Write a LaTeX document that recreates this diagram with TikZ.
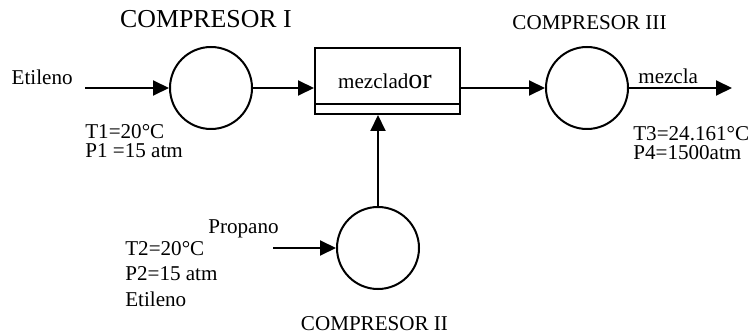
\documentclass[tikz,border=0pt]{standalone}
\usepackage{fontspec}
\setmainfont{Liberation Serif}
\usetikzlibrary{arrows.meta, calc, positioning}
\tikzstyle{stdText} = [inner sep=0pt, font=\fontsize{12}{14}\selectfont]
\tikzstyle{title} = [stdText, anchor=base]
\tikzstyle{info} = [stdText, align=left, anchor=base west]
\tikzstyle{comp} = [draw, circle, line width=.04cm, minimum size=1.64cm, inner sep=0pt]
\tikzstyle{mixer} = [stdText, draw, rectangle, line width=.04cm, minimum width=2.9cm, minimum height=1.32cm]
\tikzstyle{ar} = [-{Triangle[length=.32cm, width=.3cm]}, line width=.04cm]

\begin{document}
\begin{tikzpicture}
    \useasboundingbox (0,0) rectangle (15,-6.7);

    % compressors and the mixer
    \node (c1) [comp] at (4.22,-1.76) {};
    \node (c3) [comp] at (11.74,-1.76) {};
    \node (c2) [comp] at (7.56,-4.96) {};
    \node (mix) [mixer] at (7.75,-1.62) {\hspace*{-.1cm}mezclad{\fontsize{16}{18}\selectfont or}};
    \draw [line width=.04cm] ($(mix.south west)+(0,.22)$) -- ($(mix.south east)+(0,.22)$);

    \node (t1) [title, font=\fontsize{14.7}{17}\selectfont] at ($(c1)+(-.1,1.2)$) {COMPRESOR I};
    \node (t3) [title] at ($(c3)+(.05,1.16)$) {COMPRESOR III};
    \node (t2) [title] at ($(c2)+(-.07,-1.64)$) {COMPRESOR II};

    % free ends of the streams
    \coordinate (in1) at (1.7,-1.76);
    \coordinate (in2) at (5.46,-4.96);
    \coordinate (out3) at (14.64,-1.76);

    \draw [ar] (in1) -- (c1);
    \draw [ar] (c1) -- (c1 -| mix.west);
    \draw [ar] (mix.east |- c3) -- (c3);
    \draw [ar] (c3) -- (out3);
    \draw [ar] (in2) -- (c2);
    \draw [ar] (c2) -- (c2 |- mix.south);

    % stream data (base is the last line)
    \node (etil1) [stdText, anchor=base east] at ($(in1)+(-.24,.06)$) {Etileno};
    \node (cond1) [info, font=\fontsize{12}{11.2}\selectfont] at ($(in1)+(0,-1.4)$) {T1=20°C \\ P1 =15 atm};
    \node (prop) [stdText, anchor=base west] at ($(in2)+(-1.3,.29)$) {Propano};
    \node (cond2) [info, font=\fontsize{12}{14.5}\selectfont] at ($(in2)+(-2.96,-1.16)$) {T2=20°C \\ P2=15 atm \\ Etileno};
    \node (mezcla) [stdText, anchor=base west] at ($(c3.east)+(.18,.08)$) {mezcla};
    \node (cond3) [info, font=\fontsize{12}{11}\selectfont] at ($(c3.east)+(.08,-1.44)$) {T3=24.161°C \\ P4=1500atm};
\end{tikzpicture}
\end{document}
